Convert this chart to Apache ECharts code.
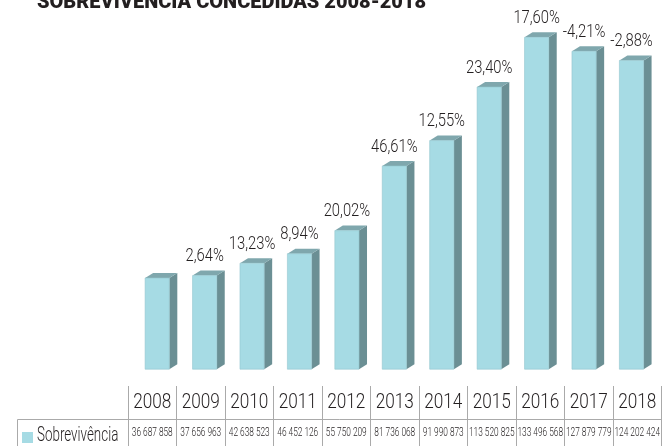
<!DOCTYPE html>
<html><head><meta charset="utf-8">
<script src="https://cdn.jsdelivr.net/npm/echarts@6/dist/echarts.min.js"></script>
<style>html,body{margin:0;padding:0;background:#fff}#c{width:662px;height:446px}</style>
</head><body><div id="c"></div>
<script>
const years = ['2008','2009','2010','2011','2012','2013','2014','2015','2016','2017','2018'];
const values = [36687858, 37656963, 42638523, 46452126, 55750209, 81736068, 91990873, 113520825, 133496568, 127879779, 124202424];
const growthLabels = ['', '2,64%', '13,23%', '8,94%', '20,02%', '46,61%', '12,55%', '23,40%', '17,60%', '-4,21%', '-2,88%'];
const seriesName = 'Sobrevivência';
const titleText = 'SOBREVIVÊNCIA CONCEDIDAS 2008-2018';

const FONT = "Roboto, 'Liberation Sans', sans-serif";
const INK = '#231f20';
const LIGHT = 350;
const fmt = v => String(v).replace(/\B(?=(\d{3})+(?!\d))/g, ' ');

const chart = echarts.init(document.getElementById('c'), null, {renderer: 'canvas'});
chart.setOption({
  animation: false,
  backgroundColor: '#fff',
  title: {
    text: titleText, left: 37, top: -7.5, padding: 0,
    textStyle: {fontFamily: FONT, fontWeight: 900, fontSize: 20, color: INK}
  },
  grid: [
    {left: 133.5, right: 6.8, top: 21.2, bottom: 76.8},
    {left: 128, right: 0.5, top: 386, bottom: 0}
  ],
  xAxis: [
    {type: 'category', gridIndex: 0, data: years, show: false},
    {type: 'category', gridIndex: 1, data: years, position: 'top',
     axisLine: {show: false}, axisTick: {show: false}, axisLabel: {show: false},
     splitLine: {show: true, lineStyle: {color: '#aaaaaa', width: 1}}}
  ],
  yAxis: [
    {type: 'value', gridIndex: 0, min: 0, max: 140000000, show: false},
    {type: 'value', gridIndex: 1, min: 0, max: 1, show: false}
  ],
  graphic: [
    {type: 'polyline', shape: {points: [[17.5, 446], [17.5, 419.5], [662, 419.5]]},
     style: {stroke: '#aaaaaa', lineWidth: 1, fill: null}, silent: true},
    {type: 'rect', shape: {x: 22, y: 432, width: 11, height: 11}, style: {fill: '#a6dbe4'}, silent: true},
    {type: 'text', x: 37, y: 436, scaleX: 0.67, silent: true,
     style: {text: seriesName, x: 0, y: 0, align: 'left', verticalAlign: 'middle',
             fontFamily: FONT, fontWeight: LIGHT, fontSize: 20, fill: INK}}
  ],
  series: [{
    type: 'custom', name: seriesName, xAxisIndex: 0, yAxisIndex: 0,
    itemStyle: {color: '#a6dbe4'},
    data: values.map((v, i) => [i, v]),
    renderItem: function (params, api) {
      const i = api.value(0), v = api.value(1);
      const top = api.coord([i, v]);
      const base = api.coord([i, 0]);
      const band = api.size([1, 0])[0];
      const w = band * 0.51;
      const x0 = top[0] - w / 2, x1 = top[0] + w / 2;
      const dx = 8, dy = -5;
      const ty = top[1], by = base[1];
      const children = [
        {type: 'polygon', shape: {points: [[x1, ty], [x1 + dx, ty + dy], [x1 + dx, by + dy], [x1, by]]},
         style: {fill: '#6b8f94'}},
        {type: 'polygon', shape: {points: [[x0, ty], [x0 + dx, ty + dy], [x1 + dx, ty + dy], [x1, ty]]},
         style: {fill: '#7fa7ad'}},
        {type: 'rect', shape: {x: x0, y: ty, width: w, height: by - ty},
         style: {fill: '#a6dbe4', stroke: '#93c6cf', lineWidth: 0.6}}
      ];
      const lab = growthLabels[i];
      if (lab) {
        children.push({type: 'text', x: top[0], y: ty - 19, scaleX: 0.82,
          style: {text: lab, x: 0, y: 0, align: 'center', verticalAlign: 'middle',
          fontFamily: FONT, fontWeight: LIGHT, fontSize: 18, fill: INK}});
      }
      return {type: 'group', children: children};
    }
  }, {
    type: 'custom', name: 'table', xAxisIndex: 1, yAxisIndex: 1, silent: true,
    data: values.map((v, i) => [i, v]),
    renderItem: function (params, api) {
      const i = api.value(0), v = api.value(1);
      const p = api.coord([i, 1]);
      return {type: 'group', children: [
        {type: 'text', x: p[0], y: p[1] + 16.5, scaleX: 0.86,
         style: {text: years[i], x: 0, y: 0, align: 'center', verticalAlign: 'middle',
                 fontFamily: FONT, fontWeight: LIGHT, fontSize: 20, fill: INK}},
        {type: 'text', x: p[0], y: p[1] + 46.5, scaleX: 0.64,
         style: {text: fmt(v), x: 0, y: 0, align: 'center', verticalAlign: 'middle',
                 fontFamily: FONT, fontWeight: LIGHT, fontSize: 13, fill: INK}}
      ]};
    }
  }]
});
</script></body></html>
